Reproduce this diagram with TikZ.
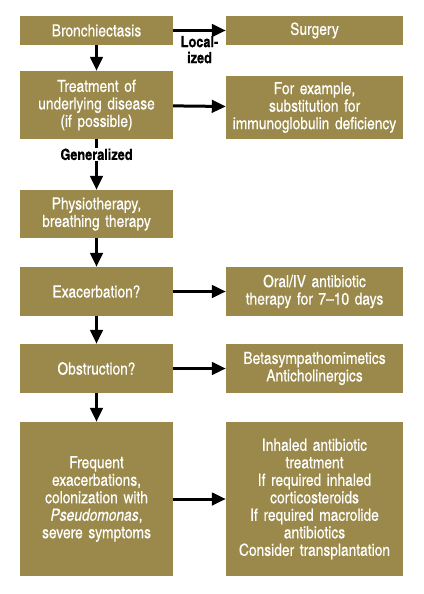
\documentclass[tikz,border=0pt]{standalone}
\usepackage{fontspec}
\setmainfont{TeX Gyre Heros Cn}[FakeBold=0.3]
\usetikzlibrary{positioning,arrows.meta}
\definecolor{boxolive}{RGB}{154,137,74}

\begin{document}
\begin{tikzpicture}[x=1pt,y=1pt,on grid,
  box/.style={fill=boxolive,text=white,align=center,inner sep=1pt,
    font=\fontsize{16.8}{17.5}\selectfont},
  lbox/.style={box,minimum width=153pt,text width=151pt},
  rbox/.style={box,minimum width=177pt,text width=175pt},
  lbl/.style={font=\bfseries\fontsize{15.5}{16}\selectfont,align=center,inner sep=1pt},
  >={Triangle[length=14pt,width=12.5pt]},
  every edge/.style={draw,line width=3pt}]
\useasboundingbox (0,0) rectangle (423,-594);
\node[lbox,minimum height=29pt] (bronch) at (96.5,-30.5) {Bronchiectasis};
\node[rbox,minimum height=29pt] (surgery) [right=218pt of bronch] {Surgery};
\node[lbox,minimum height=68pt] (treat) [below=74.5pt of bronch] {Treatment of\\underlying disease\\(if possible)};
\node[rbox,minimum height=63pt] (subst) [right=218pt of treat,yshift=-2.5pt] {For example,\\substitution for\\immunoglobulin deficiency};
\node[lbox,minimum height=48pt] (physio) [below=109pt of treat] {Physiotherapy,\\breathing therapy};
\node[lbox,minimum height=49pt] (exac) [below=77.5pt of physio] {Exacerbation?};
\node[rbox,minimum height=49pt] (abx) [right=218pt of exac] {Oral/IV antibiotic\\therapy for 7--10 days};
\node[lbox,minimum height=49pt] (obstr) [below=77pt of exac] {Obstruction?};
\node[rbox,minimum height=49pt] (beta) [right=218pt of obstr] {Betasympathomimetics\\Anticholinergics};
\node[lbox,minimum height=154pt] (freq) [below=130.5pt of obstr] {Frequent\\exacerbations,\\colonization with\\\textit{Pseudomonas},\\severe symptoms};
\node[rbox,minimum height=154pt] (inhal) [right=218pt of freq] {Inhaled antibiotic\\treatment\\If required inhaled\\corticosteroids\\If required macrolide\\antibiotics\\Consider transplantation};
\path[->]
(bronch) edge node[lbl,below=3pt] {Local-\\ized} (surgery) edge (treat)
(treat) edge (subst) edge node[lbl,fill=white,pos=0.3] {Generalized} (physio)
(physio) edge (exac)
(exac) edge (abx) edge (obstr)
(obstr) edge (beta) edge (freq)
(freq) edge (inhal)
;
\end{tikzpicture}
\end{document}
